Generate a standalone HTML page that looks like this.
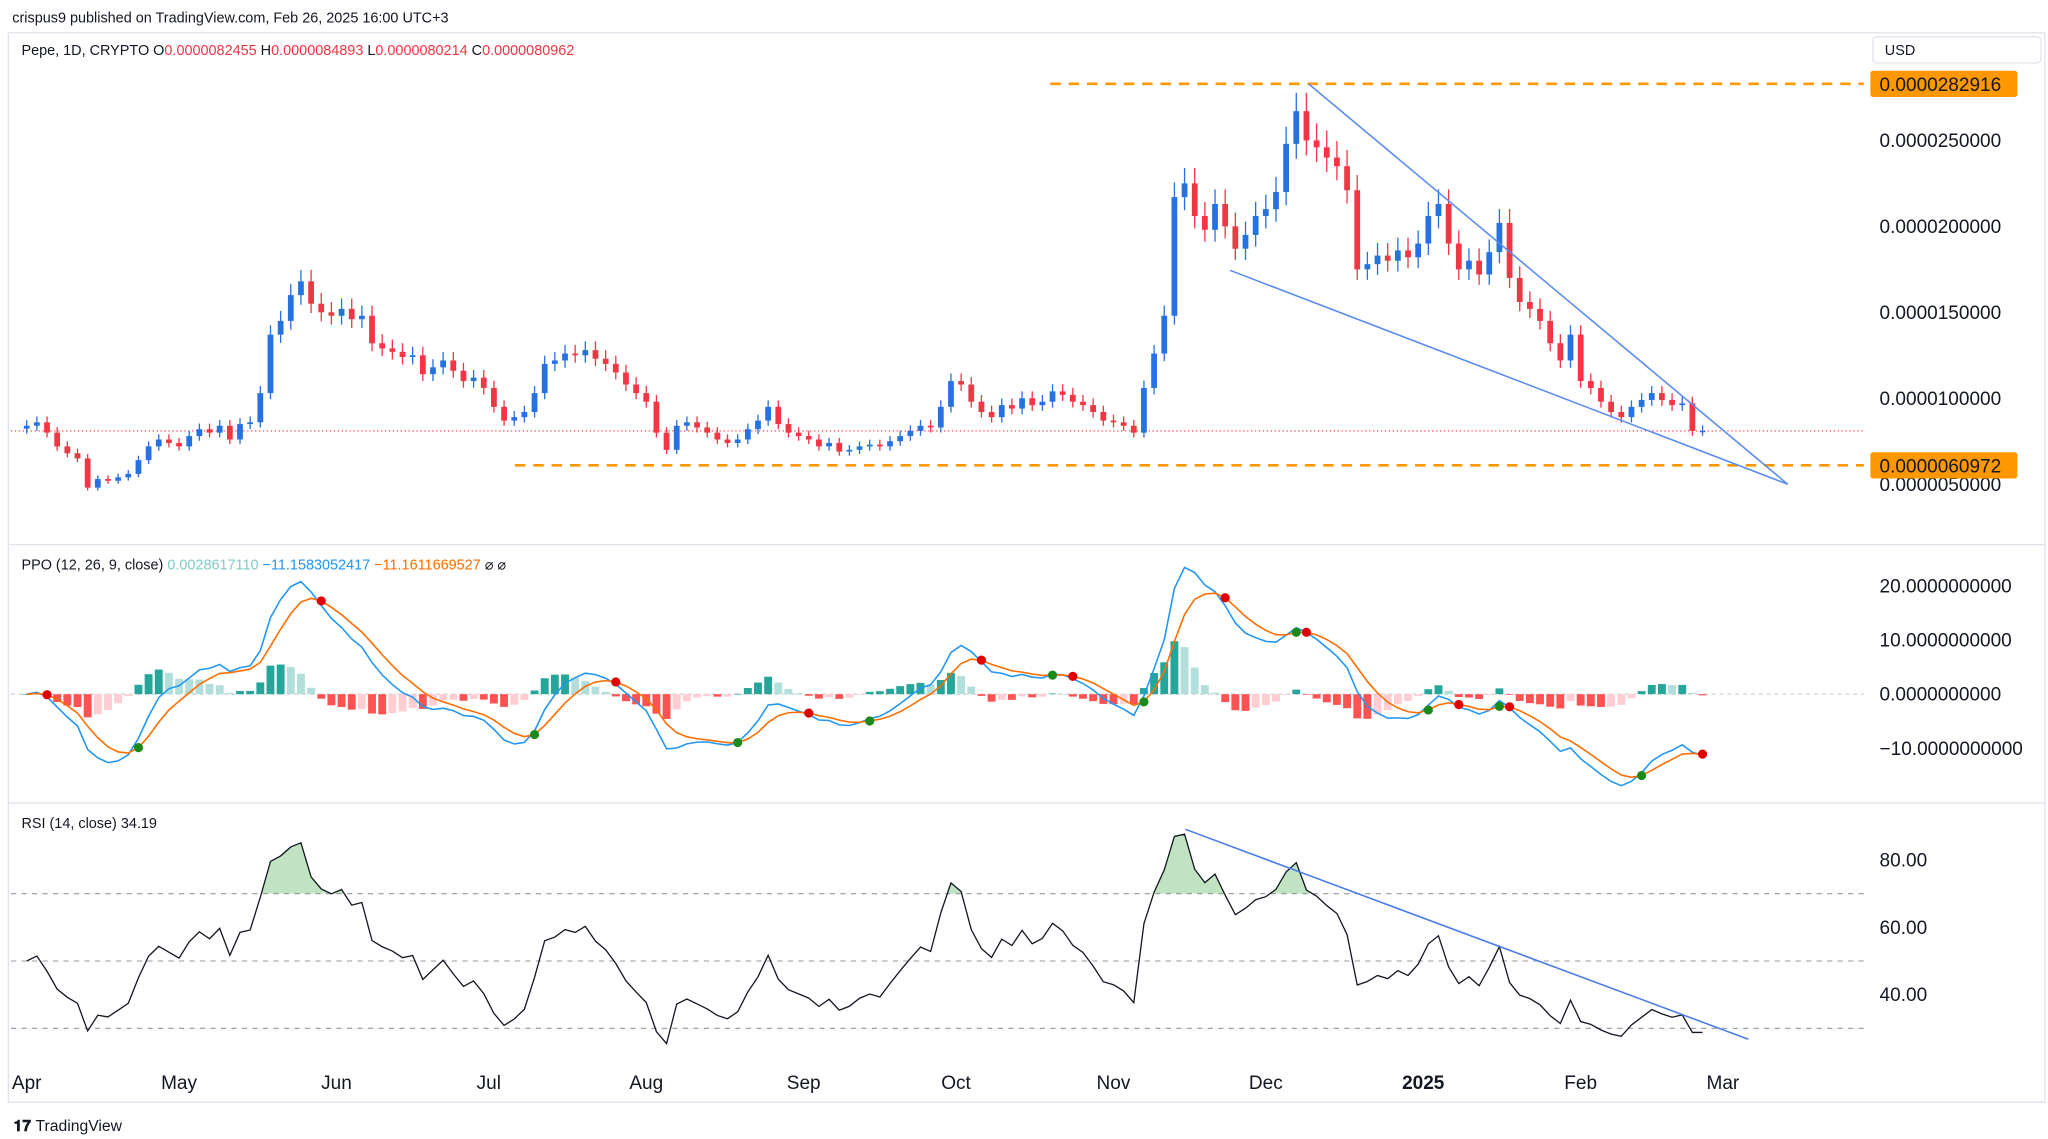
<!DOCTYPE html>
<html><head><meta charset="utf-8"><style>
html,body{margin:0;padding:0;background:#fff;}
svg{display:block;font-family:"Liberation Sans",sans-serif;}
</style></head><body>
<svg id="c" width="2048" height="1139" viewBox="0 0 1560 868" xmlns="http://www.w3.org/2000/svg">
<rect width="1560" height="868" fill="#fff"/>
<text x="9" y="17" font-size="11" fill="#131722">crispus9 published on TradingView.com, Feb 26, 2025 16:00 UTC+3</text>
<rect x="6" y="25" width="1552" height="815" fill="none" stroke="#e0e3eb" stroke-width="1"/>
<g font-size="11">
<text x="16" y="42" fill="#131722">Pepe, 1D, CRYPTO  O<tspan fill="#f23645">0.0000082455</tspan>  H<tspan fill="#f23645">0.0000084893</tspan>  L<tspan fill="#f23645">0.0000080214</tspan>  C<tspan fill="#f23645">0.0000080962</tspan></text>
</g>
<rect x="1427" y="28" width="128" height="20" rx="3" fill="#fff" stroke="#e0e3eb"/>
<text x="1436" y="42" font-size="11" fill="#131722">USD</text>
<line x1="6" y1="415" x2="1558" y2="415" stroke="#e0e3eb"/>
<line x1="6" y1="612" x2="1558" y2="612" stroke="#e0e3eb"/>
<g id="price"></g>
<g id="ppo"></g>
<g id="rsi"></g>
<g id="time"></g>
<text x="10" y="862" font-size="12" font-weight="bold" fill="#131722">𝟏𝟕 <tspan font-weight="normal">TradingView</tspan></text>
</svg>
<script>
const closes=[8.4,8.6,8.0,7.2,6.8,6.5,4.8,5.3,5.2,5.4,5.6,6.4,7.2,7.6,7.4,
7.2,7.8,8.2,8.0,8.4,7.6,8.5,8.6,10.3,13.7,14.5,16.0,16.8,15.5,15.0,14.8,
15.2,14.6,14.8,13.2,12.9,12.7,12.4,12.5,11.4,11.8,12.2,11.6,11.0,11.2,10.6,
9.5,8.7,8.9,9.2,10.3,12.0,12.2,12.6,12.5,12.8,12.3,12.0,11.5,10.8,10.3,9.8,
8.0,7.0,8.4,8.6,8.3,8.0,7.6,7.4,7.6,8.2,8.7,9.5,8.5,8.0,7.8,
7.6,7.2,7.4,6.9,7.0,7.2,7.3,7.2,7.5,7.8,8.1,8.4,8.3,9.5,11.0,
10.8,9.8,9.2,8.9,9.6,9.4,10.0,9.6,9.8,10.4,10.2,9.8,9.6,9.2,8.7,8.6,
8.4,8.0,10.6,12.6,14.8,21.7,22.5,20.6,19.8,21.3,20.0,18.7,19.5,20.6,21.0,
22.0,24.8,26.7,25.0,24.6,24.0,23.5,22.1,17.5,17.8,18.3,18.0,18.6,18.2,19.0,
20.6,21.3,19.0,17.5,18.0,17.2,18.5,20.2,17.0,15.6,15.2,14.5,13.2,12.2,13.7,11.0,
10.6,9.8,9.2,8.9,9.5,9.9,10.3,9.9,9.6,9.7,8.1,8.1];
const priceTicks=[25,20,15,10,5];
const priceTickLabels=["0.0000250000","0.0000200000","0.0000150000","0.0000100000","0.0000050000"];
const levels=[28.2916,6.0972];
const levelLabels=["0.0000282916","0.0000060972"];
const ppoTicks=[20,10,0,-10];
const ppoTickLabels=["20.0000000000","10.0000000000","0.0000000000","−10.0000000000"];
const rsiTicks=[80,60,40];
const rsiTickLabels=["80.00","60.00","40.00"];
const monthLabels=["Apr","May","Jun","Jul","Aug","Sep","Oct","Nov","Dec","2025","Feb","Mar"];
const monthDays=[0,30,61,91,122,153,183,214,244,275,306,334];

const NS="http://www.w3.org/2000/svg";
function mk(p,tag,a){const e=document.createElementNS(NS,tag);for(const k in a)e.setAttribute(k,a[k]);p.appendChild(e);return e;}
const xDay=d=>20+d*3.87, xi=i=>xDay(i*2);
const yP=p=>369-(p-5)*13.1;
const yPPO=v=>529-v*4.12;
const yR=v=>758-(v-40)*2.565;
const P=document.getElementById('price'),Q=document.getElementById('ppo'),R=document.getElementById('rsi'),T=document.getElementById('time');

priceTicks.forEach((t,k)=>{const e=mk(P,'text',{x:1432,y:yP(t)+5,'font-size':14.5,fill:'#131722'});e.textContent=priceTickLabels[k];

});
const cp=closes[closes.length-1];
let l=mk(P,'line',{x1:8,x2:1420,y1:yP(cp),y2:yP(cp),stroke:'#f23645','stroke-width':0.8,'stroke-dasharray':'1 2'});


closes.forEach((c,i)=>{const o=i?closes[i-1]:c*0.98;const up=c>=o;const col=up?'#2672e0':'#f23645';
const hi=Math.max(o,c)*1.04,lo=Math.min(o,c)*0.965;const x=xi(i);
const g=mk(P,'g',{});


mk(g,'line',{x1:x,x2:x,y1:yP(hi),y2:yP(lo),stroke:col,'stroke-width':1});
const y1=yP(Math.max(o,c)),y2=yP(Math.min(o,c));
mk(g,'rect',{x:x-2.2,y:y1,width:4.4,height:Math.max(1,y2-y1),fill:col});});
[[800,levels[0]],[392,levels[1]]].forEach(([x0,v],k)=>{
l=mk(P,'line',{x1:x0,x2:1420,y1:yP(v),y2:yP(v),stroke:'#ff9800','stroke-width':2,'stroke-dasharray':'8 6'});


const r=mk(P,'rect',{x:1425,y:yP(v)-10,width:112,height:20,rx:2,fill:'#ff9800'});


const t=mk(P,'text',{x:1432,y:yP(v)+5.5,'font-size':14.5,fill:'#131722'});t.textContent=levelLabels[k];});
l=mk(P,'polyline',{points:'997,64 1362,369 937,206',fill:'none',stroke:'#5b8def','stroke-width':1.2});



function ema(a,n){const k=2/(n+1);let r=[],e=a[0];a.forEach(v=>{e=v*k+e*(1-k);r.push(e);});return r;}
const ef=ema(closes,6),es=ema(closes,13);
const ppo=ef.map((f,i)=>(f-es[i])/es[i]*100);
const sig=ema(ppo,4.5);
const hist=ppo.map((v,i)=>v-sig[i]);
l=mk(Q,'line',{x1:8,x2:1420,y1:yPPO(0),y2:yPPO(0),stroke:'#d1d4dc','stroke-dasharray':'3 3'});
ppoTicks.forEach((t,k)=>{const e=mk(Q,'text',{x:1432,y:yPPO(t)+5,'font-size':14.5,fill:'#131722'});e.textContent=ppoTickLabels[k];});
hist.forEach((h,i)=>{const prev=i?hist[i-1]:0;let col=h>=0?(h>=prev?'#26a69a':'#b2dfdb'):(h<prev?'#ff5252':'#ffcdd2');
const y0=yPPO(0),y1=yPPO(h);const r=mk(Q,'rect',{x:xi(i)-3,y:Math.min(y0,y1),width:6,height:Math.max(0.5,Math.abs(y1-y0)),fill:col});

});
l=mk(Q,'polyline',{points:ppo.map((v,i)=>xi(i)+','+yPPO(v)).join(' '),fill:'none',stroke:'#2196f3','stroke-width':1.2});


l=mk(Q,'polyline',{points:sig.map((v,i)=>xi(i)+','+yPPO(v)).join(' '),fill:'none',stroke:'#ff6d00','stroke-width':1.2});


for(let i=1;i<ppo.length;i++){const a=hist[i-1],b=hist[i];if(a*b<0){
const d=mk(Q,'circle',{cx:xi(i),cy:yPPO(sig[i]),r:3.5,fill:b>0?'#1b8a1b':'#e00000'});

}}
let t=mk(Q,'text',{x:16,y:434,'font-size':11,fill:'#131722'});
t.innerHTML='PPO (12, 26, 9, close)  <tspan fill="#80cbc4">0.0028617110</tspan>  <tspan fill="#2196f3">−11.1583052417</tspan>  <tspan fill="#ff6d00">−11.1611669527</tspan>  ⌀  ⌀';



let ag=0,al=0;const rsi=[];const N=12;
closes.forEach((c,i)=>{const d=i?c-closes[i-1]:0;const g=Math.max(d,0),ls=Math.max(-d,0);
if(i===0){ag=0.3;al=0.3;}else{ag=(ag*(N-1)+g)/N;al=(al*(N-1)+ls)/N;}
rsi.push(100-100/(1+ag/al));});
[70,50,30].forEach(v=>mk(R,'line',{x1:8,x2:1420,y1:yR(v),y2:yR(v),stroke:'#9598a1','stroke-dasharray':'4 4','stroke-width':0.8}));
rsiTicks.forEach((v,k)=>{const e=mk(R,'text',{x:1432,y:yR(v)+5,'font-size':14.5,fill:'#131722'});e.textContent=rsiTickLabels[k];});
const pts=rsi.map((v,i)=>xi(i)+','+yR(v)).join(' ');
const cl=mk(R,'clipPath',{id:'ob'});mk(cl,'rect',{x:0,y:600,width:1560,height:yR(70)-600});
l=mk(R,'polygon',{points:pts+' '+xi(rsi.length-1)+','+yR(70)+' '+xi(0)+','+yR(70),fill:'#4caf50','fill-opacity':0.35,'clip-path':'url(#ob)'});


l=mk(R,'polyline',{points:pts,fill:'none',stroke:'#131722','stroke-width':1});


l=mk(R,'line',{x1:903,y1:632,x2:1332,y2:792,stroke:'#4a7de8','stroke-width':1.2});


t=mk(R,'text',{x:16,y:631,'font-size':11,fill:'#131722'});t.textContent='RSI (14, close)  34.19';



l=mk(T,'line',{x1:6,x2:1558,y1:840,y2:840,stroke:'#e0e3eb'});
monthLabels.forEach((m,k)=>{const e=mk(T,'text',{x:xDay(monthDays[k]),y:830,'font-size':14.5,'text-anchor':'middle',fill:'#131722','font-weight':m==='2025'?'bold':'normal'});e.textContent=m;

});
</script>
</body></html>
